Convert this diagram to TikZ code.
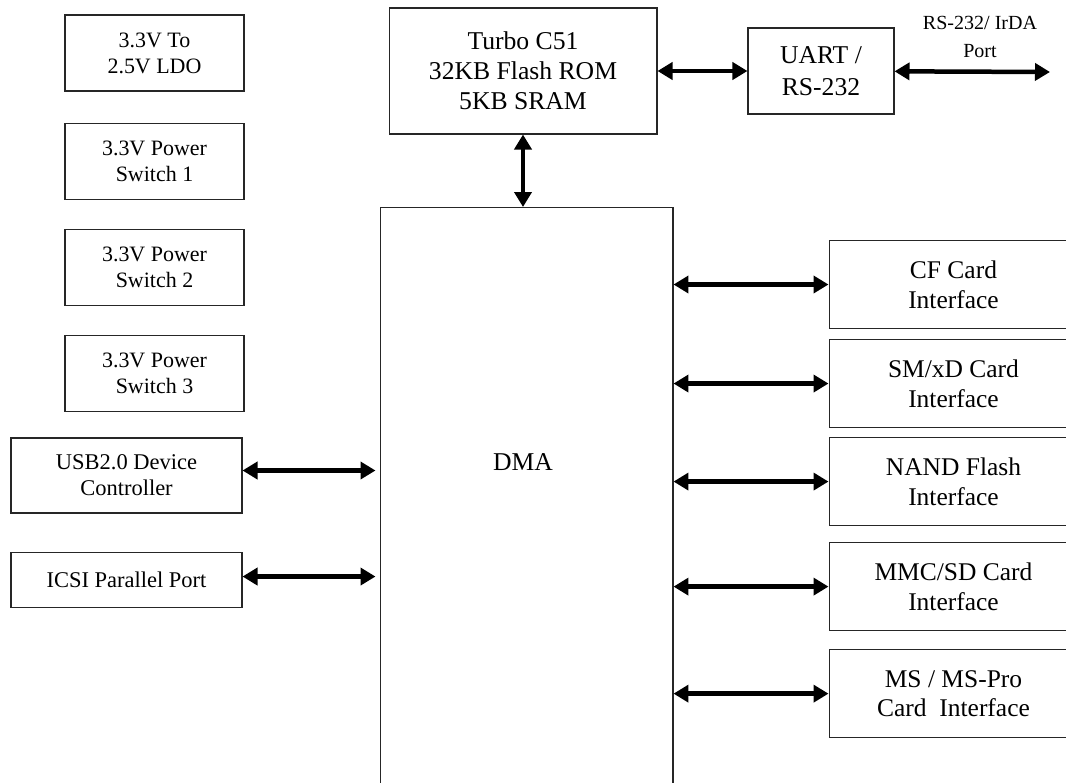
\documentclass[tikz,border=0pt]{standalone}
\usepackage{fontspec}
\setmainfont{Liberation Serif}
\usepackage{tikz}
\usetikzlibrary{arrows.meta,positioning,calc}

\begin{document}
\begin{tikzpicture}[
    x=0.02cm, y=-0.02cm,
    block/.style={rectangle, draw=black!85, line width=0.6pt, align=center, inner sep=2pt},
    smallbox/.style={block, minimum width=3.58cm, minimum height=1.52cm, font=\fontsize{12.5}{14.8}\selectfont},
    portbox/.style={block, minimum width=4.62cm, font=\fontsize{12.8}{14.8}\selectfont},
    cardbox/.style={block, minimum width=4.98cm, minimum height=1.76cm, font=\fontsize{14.5}{17}\selectfont},
    arrow/.style={{Triangle[length=0.3cm, width=0.34cm]}-{Triangle[length=0.3cm, width=0.34cm]}, line width=0.09cm}
]
\useasboundingbox (0,0) rectangle (1066,782);
\clip (0,0) rectangle (1066,782);

% power blocks
\node [smallbox] (ldo) at (154.5,53) {3.3V To\\2.5V LDO};
\node [smallbox, below=0.62cm of ldo] (sw1) {3.3V Power\\Switch 1};
\node [smallbox, below=0.58cm of sw1] (sw2) {3.3V Power\\Switch 2};
\node [smallbox, below=0.58cm of sw2] (sw3) {3.3V Power\\Switch 3};

% host side
\node [portbox, minimum height=1.5cm] (usb) at (126.5,475.5) {USB2.0 Device\\Controller};
\node [portbox, minimum height=1.1cm, below=0.76cm of usb] (icsi) {ICSI Parallel Port};

% cpu and uart
\node [block, minimum width=5.36cm, minimum height=2.52cm, font=\fontsize{14.6}{17}\selectfont] (turbo) at (523,71) {Turbo C51\\32KB Flash ROM\\5KB SRAM};
\node [block, minimum width=2.92cm, minimum height=1.72cm, font=\fontsize{14.6}{18}\selectfont, right=1.8cm of turbo] (uart) {UART /\\RS-232};
\coordinate (portend) at (1050,72);
\node [align=center, font=\fontsize{11.4}{15.5}\selectfont] (portlbl) at (980,37) {RS-232/ IrDA\\Port};

% dma
\node [block, minimum width=5.86cm, minimum height=11.9cm, anchor=north] (dma) at (526.5,207) {};
\node [font=\fontsize{14.6}{17}\selectfont] (dmalbl) at (523,462) {DMA};

% card interfaces
\node [cardbox] (cf) at (953.5,284.5) {CF Card\\Interface};
\node [cardbox, below=0.2cm of cf] (sm) {SM/xD Card\\Interface};
\node [cardbox, below=0.18cm of sm] (nand) {NAND Flash\\Interface};
\node [cardbox, below=0.32cm of nand] (mmc) {MMC/SD Card\\Interface};
\node [cardbox, below=0.36cm of mmc] (ms) {MS / MS-Pro\\Card~ Interface};

\draw [arrow] (turbo) -- (uart);
\draw [arrow] (uart) -- (portend);
\draw [arrow] (turbo.south) -- (turbo.south |- dma.north);
\draw [arrow, shorten >=0.08cm] ($(usb.east)+(0,-5)$) -- ($(usb.east -| dma.west)+(0,-5)$);
\draw [arrow, shorten >=0.08cm] ($(icsi.east)+(0,-3)$) -- ($(icsi.east -| dma.west)+(0,-3)$);
\foreach \card in {cf,sm,nand,mmc,ms}
    \draw [arrow] (\card.west -| dma.east) -- (\card.west);

\end{tikzpicture}
\end{document}
